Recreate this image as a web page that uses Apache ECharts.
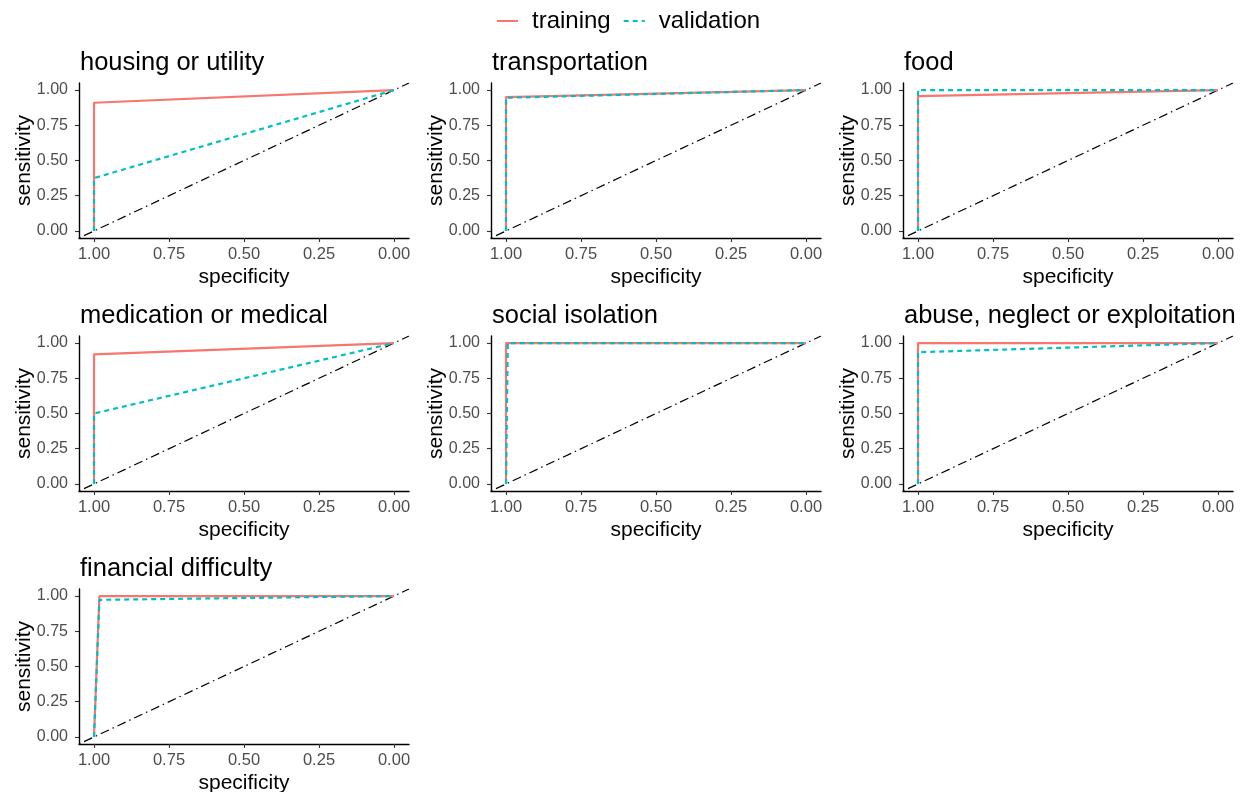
<!DOCTYPE html>
<html>
<head>
<meta charset="utf-8">
<script src="https://cdn.jsdelivr.net/npm/echarts@6/dist/echarts.min.js"></script>
<style>
  html, body { margin: 0; padding: 0; background: #fff; }
  #chart { width: 1245px; height: 792px; }
</style>
</head>
<body>
<div id="chart"></div>
<script>
// ---- data ----
const panelTitles = [
  "housing or utility", "transportation", "food",
  "medication or medical", "social isolation", "abuse, neglect or exploitation",
  "financial difficulty"
];
// ROC points: [specificity, sensitivity]
const housingTraining = [[1, 0], [1, 0.91], [0, 1]];
const housingValidation = [[1, 0], [1, 0.375], [0, 1]];
const transportationTraining = [[1, 0], [1, 0.95], [0, 1]];
const transportationValidation = [[1, 0], [1, 0.945], [0, 1]];
const foodTraining = [[1, 0], [1, 0.957], [0, 1]];
const foodValidation = [[1, 0], [1, 1], [0, 1]];
const medicalTraining = [[1, 0], [1, 0.92], [0, 1]];
const medicalValidation = [[1, 0], [1, 0.50], [0, 1]];
const socialTraining = [[1, 0], [1, 1], [0, 1]];
const socialValidation = [[1, 0], [0.994, 1], [0, 1]];
const abuseTraining = [[1, 0], [1, 1], [0, 1]];
const abuseValidation = [[1, 0], [1, 0.935], [0, 1]];
const financialTraining = [[1, 0], [0.982, 1], [0, 1]];
const financialValidation = [[1, 0], [0.982, 0.973], [0, 1]];

const trainingCurves = [housingTraining, transportationTraining, foodTraining,
  medicalTraining, socialTraining, abuseTraining, financialTraining];
const validationCurves = [housingValidation, transportationValidation, foodValidation,
  medicalValidation, socialValidation, abuseValidation, financialValidation];

const tickValues = [0, 0.25, 0.5, 0.75, 1];
const referenceLine = [[1.05, -0.05], [-0.05, 1.05]]; // sensitivity = 1 - specificity across panel

// ---- layout ----
const FONT = "'Liberation Sans', Arial, Helvetica, sans-serif";
const colLeft = [79, 491, 903];
const rowTop = [83, 336, 589];
const gridW = 330, gridH = 155;
const RED = '#F8766D', CYAN = '#00BFC4';

const grids = [], xAxes = [], yAxes = [], series = [], titles = [];

panelTitles.forEach((t, i) => {
  const r = Math.floor(i / 3), c = i % 3;
  grids.push({
    left: colLeft[c], top: rowTop[r], width: gridW, height: gridH,
    containLabel: false, outerBoundsMode: 'none'
  });
  titles.push({
    text: t, left: colLeft[c] + 1, top: rowTop[r] - 33, padding: 0,
    textStyle: { fontFamily: FONT, fontSize: 25.5, fontWeight: 'normal', color: '#000' }
  });
  xAxes.push({
    gridIndex: i, type: 'value', min: -0.05, max: 1.05, inverse: true,
    name: 'specificity', nameLocation: 'middle', nameGap: 29, nameMoveOverlap: false,
    nameTextStyle: { fontFamily: FONT, fontSize: 21, color: '#000' },
    axisLine: { show: true, onZero: false, lineStyle: { color: '#000', width: 1.4 } },
    axisTick: { show: true, customValues: tickValues, length: 4, lineStyle: { color: '#333', width: 1.1 } },
    axisLabel: { customValues: tickValues, margin: 8, fontFamily: FONT, fontSize: 16.5, color: '#4d4d4d',
      formatter: v => Number(v).toFixed(2) },
    splitLine: { show: false }
  });
  yAxes.push({
    gridIndex: i, type: 'value', min: -0.05, max: 1.05,
    name: 'sensitivity', nameLocation: 'middle', nameGap: 44, nameMoveOverlap: false,
    nameTextStyle: { fontFamily: FONT, fontSize: 21, color: '#000' },
    axisLine: { show: true, onZero: false, lineStyle: { color: '#000', width: 1.4 } },
    axisTick: { show: true, customValues: tickValues, length: 4, lineStyle: { color: '#333', width: 1.1 } },
    axisLabel: { customValues: tickValues, margin: 11, fontFamily: FONT, fontSize: 16, color: '#4d4d4d',
      formatter: v => Number(v).toFixed(2) },
    splitLine: { show: false }
  });
  series.push({
    type: 'line', xAxisIndex: i, yAxisIndex: i, data: referenceLine,
    symbol: 'none', silent: true, z: 1,
    lineStyle: { color: '#000', width: 1.2, type: [1.5, 4, 9, 4] }
  });
  series.push({
    name: 'training', type: 'line', xAxisIndex: i, yAxisIndex: i, data: trainingCurves[i],
    symbol: 'none', z: 2,
    lineStyle: { color: RED, width: 2.2 }, itemStyle: { color: RED }
  });
  series.push({
    name: 'validation', type: 'line', xAxisIndex: i, yAxisIndex: i, data: validationCurves[i],
    symbol: 'none', z: 3,
    lineStyle: { color: CYAN, width: 2.2, type: [5, 4] }, itemStyle: { color: CYAN }
  });
});

const chart = echarts.init(document.getElementById('chart'), null, { renderer: 'canvas' });
chart.setOption({
  backgroundColor: '#fff',
  animation: false,
  title: titles,
  legend: {
    data: ['training', 'validation'],
    left: 496, top: 9, padding: 0,
    itemWidth: 21, itemHeight: 14, itemGap: 12,
    itemStyle: { opacity: 0 },
    textStyle: { fontFamily: FONT, fontSize: 24, color: '#000', padding: [0, 0, 0, 9] }
  },
  grid: grids,
  xAxis: xAxes,
  yAxis: yAxes,
  series: series
});
</script>
</body>
</html>
